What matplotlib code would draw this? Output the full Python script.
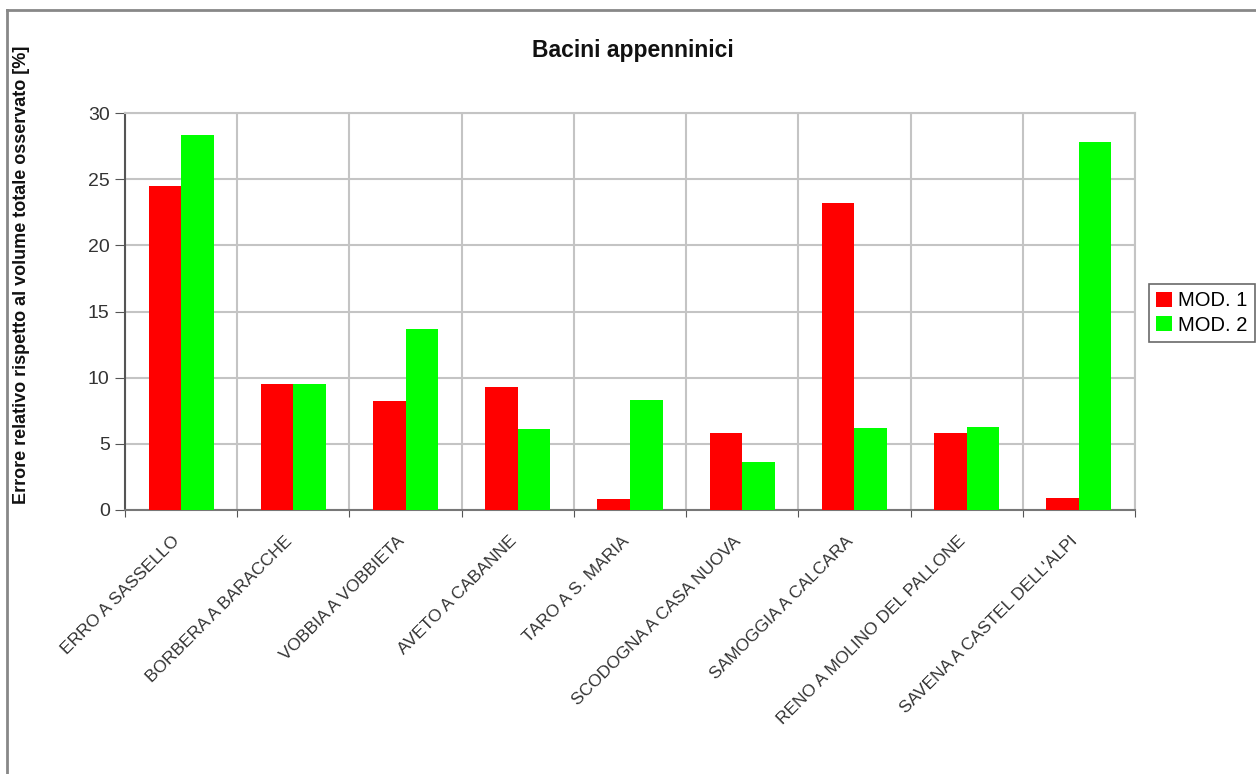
import matplotlib.pyplot as plt
import numpy as np
from matplotlib.patches import Patch
from matplotlib.lines import Line2D

plt.rcParams['font.family'] = ['Liberation Sans', 'DejaVu Sans']

# bacini e errori relativi (%)
bacini = ["ERRO A SASSELLO", "BORBERA A BARACCHE", "VOBBIA A VOBBIETA",
          "AVETO A CABANNE", "TARO A S. MARIA", "SCODOGNA A CASA NUOVA",
          "SAMOGGIA A CALCARA", "RENO A MOLINO DEL PALLONE",
          "SAVENA A CASTEL DELL'ALPI"]
mod1 = [24.5, 9.5, 8.2, 9.3, 0.85, 5.85, 23.2, 5.8, 0.9]
mod2 = [28.3, 9.5, 13.7, 6.1, 8.3, 3.6, 6.2, 6.3, 27.8]
serie = ["MOD. 1", "MOD. 2"]
colori = ["#ff0000", "#00ff00"]

W, H = 1256, 774
fig = plt.figure(figsize=(W / 100, H / 100), dpi=100)
ax = fig.add_axes([125 / W, 1 - 510 / H, (1135 - 125) / W, (510 - 113) / H])

x = np.arange(len(bacini))
bw = 0.29
ax.bar(x - bw / 2, mod1, bw, color=colori[0], zorder=3, linewidth=0)
ax.bar(x + bw / 2, mod2, bw, color=colori[1], zorder=3, linewidth=0)

ax.set_xlim(-0.5, len(bacini) - 0.5)
ax.set_ylim(0, 30)
ax.set_yticks(np.arange(0, 31, 5))

# confini tra categorie come tick principali, nomi come tick minori
ax.set_xticks(np.arange(-0.5, len(bacini)), labels=[])
ax.set_xticks(x - 0.08, labels=bacini, minor=True)
ax.tick_params(axis='x', which='minor', length=0, pad=17)
ax.tick_params(axis='x', which='major', length=5, direction='out', color='#555555')
ax.tick_params(axis='y', length=7, direction='out', color='#555555',
               labelsize=14, labelcolor='#333333', pad=4)
for lab in ax.get_xticklabels(minor=True):
    lab.set_rotation(45)
    lab.set_ha('right')
    lab.set_va('top')
    lab.set_rotation_mode('anchor')
    lab.set_fontsize(12.5)
    lab.set_color('#333333')

ax.grid(True, which='major', color='#c4c4c4', linewidth=1.5, zorder=0)
ax.set_axisbelow(True)
for s in ['top', 'right']:
    ax.spines[s].set_color('#c4c4c4')
    ax.spines[s].set_linewidth(1.5)
ax.spines['left'].set_color('#555555')
ax.spines['bottom'].set_color('#777777')
ax.spines['left'].set_linewidth(1.5)
ax.spines['bottom'].set_linewidth(1.5)

fig.text(633 / W, 1 - 50 / H, "Bacini appenninici", ha='center', va='center',
         fontsize=16.5, fontweight='bold', color='#111111')
fig.text(22 / W, 1 - 275 / H, "Errore relativo rispetto al volume totale osservato [%]",
         rotation=90, ha='center', va='center', fontsize=13, fontweight='bold',
         color='#111111')

handles = [Patch(facecolor=c, edgecolor='none') for c in colori]
leg = fig.legend(handles, serie, loc='center left',
                 bbox_to_anchor=(1149 / W, 1 - 313 / H), fontsize=14.5,
                 frameon=True, fancybox=False, handlelength=0.8,
                 handleheight=0.8, handletextpad=0.3, borderpad=0.35,
                 labelspacing=0.25, borderaxespad=0)
leg.get_frame().set_edgecolor('#444444')
leg.get_frame().set_linewidth(1.2)

# cornice dell'area del grafico
fig.add_artist(Line2D([7 / W, 7 / W], [0, 1 - 10 / H], color='#888888',
                      linewidth=2, transform=fig.transFigure))
fig.add_artist(Line2D([7 / W, 1], [1 - 10 / H, 1 - 10 / H], color='#888888',
                      linewidth=2, transform=fig.transFigure))

fig.savefig("out.png", dpi=100)
